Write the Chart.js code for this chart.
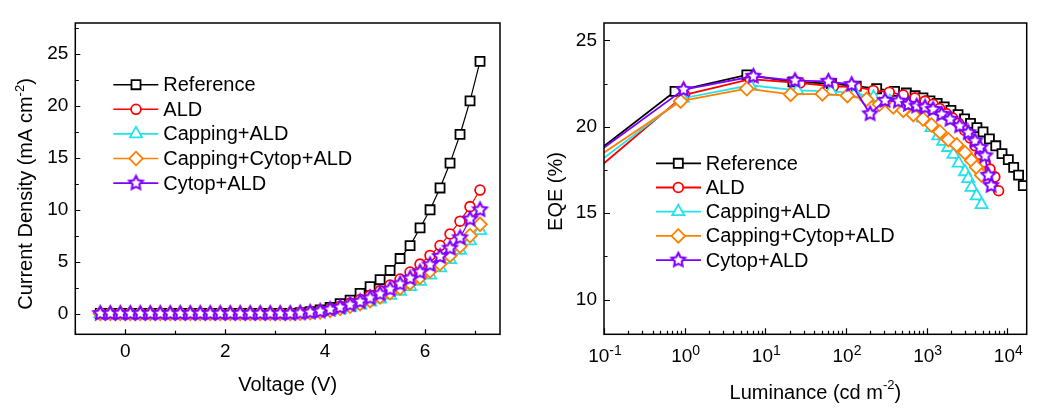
<!DOCTYPE html>
<html>
<head>
<meta charset="utf-8">
<script src="https://cdn.jsdelivr.net/npm/chart.js@4.4.0/dist/chart.umd.min.js"></script>
<style>
html,body{margin:0;padding:0;background:#fff;}
#wrap{position:relative;width:1045px;height:414px;overflow:hidden;}
.pane{position:absolute;top:0;height:414px;}
</style>
</head>
<body>
<div id="wrap">
  <div class="pane" style="left:0;width:520px;"><canvas id="left"></canvas></div>
  <div class="pane" style="left:520px;width:525px;"><canvas id="right"></canvas></div>
</div>
<script>
// ---------------- DATA ----------------
const seriesNames = ['Reference', 'ALD', 'Capping+ALD', 'Capping+Cytop+ALD', 'Cytop+ALD'];

// Left: J-V
const voltage = [-0.5,-0.3,-0.1,0.1,0.3,0.5,0.7,0.9,1.1,1.3,1.5,1.7,1.9,2.1,2.3,2.5,2.7,2.9,3.1,3.3,
                 3.5,3.7,3.9,4.1,4.3,4.5,4.7,4.9,5.1,5.3,5.5,5.7,5.9,6.1,6.3,6.5,6.7,6.9,7.1];
const jReference = [0,0,0,0,0,0,0,0,0,0,0,0,0,0,0,0,0,0,0,0,
                    0.08,0.18,0.35,0.6,0.95,1.3,1.95,2.6,3.26,4.15,5.3,6.55,8.25,10.0,12.1,14.5,17.26,20.5,24.3];
const jALD       = [0,0,0,0,0,0,0,0,0,0,0,0,0,0,0,0,0,0,0,0,
                    0.05,0.14,0.27,0.45,0.7,1.0,1.35,1.75,2.2,2.75,3.33,4.0,4.76,5.6,6.55,7.67,8.9,10.3,11.9];
const jCapping   = [0,0,0,0,0,0,0,0,0,0,0,0,0,0,0,0,0,0,0,0,
                    0.02,0.06,0.12,0.25,0.4,0.6,0.82,1.1,1.4,1.75,2.15,2.6,3.1,3.7,4.4,5.2,6.1,7.0,8.0];
const jCapCytop  = [0,0,0,0,0,0,0,0,0,0,0,0,0,0,0,0,0,0,0,0,
                    0.03,0.08,0.15,0.3,0.5,0.7,0.95,1.25,1.6,2.0,2.45,2.95,3.5,4.1,4.8,5.6,6.5,7.5,8.6];
const jCytop     = [0,0,0,0,0,0,0,0,0,0,0,0,0,0,0,0,0,0,0,0,
                    0.05,0.12,0.22,0.4,0.6,0.85,1.15,1.5,1.9,2.35,2.85,3.4,4.0,4.7,5.5,6.3,7.3,9.1,10.0];

// Right: EQE vs luminance
const lumReference = [0.05,0.76,5.9,22,66,134,240,400,560,720,900,1100,1350,1650,2000,2450,2950,3500,4200,5000,6000,7200,8600,10300,12000,13800,15800];
const eqeReference = [17.8,22.05,23.0,22.6,22.5,22.35,22.2,22.05,21.95,21.8,21.67,21.5,21.35,21.15,20.95,20.7,20.45,20.2,19.95,19.7,19.3,18.9,18.45,18.1,17.65,17.2,16.6];
const lumALD = [0.05,1.0,6.5,27,70,135,218,344,513,716,955,1200,1450,1770,2100,2500,2950,3450,4000,4600,5300,6100,7000,7800];
const eqeALD = [16.7,21.85,22.75,22.53,22.34,22.3,22.1,22.0,21.83,21.67,21.48,21.3,21.05,20.75,20.5,20.2,19.8,19.35,18.9,18.4,17.95,17.55,17.1,16.3];
const lumCapping = [0.05,0.95,6.5,25,65,130,220,350,500,700,900,1150,1390,1600,1850,2150,2500,2990,3280,3610,4170,4810];
const eqeCapping = [17.14,21.65,22.4,22.1,22.05,21.95,21.7,21.45,21.2,20.9,20.5,19.95,19.47,19.15,18.8,18.4,17.9,17.4,17.0,16.5,16.0,15.5];
const lumCapCytop = [0.05,0.89,5.9,20.6,51,104,180,260,386,513,684,900,1150,1460,1860,2360,2990,3610,4170,4800];
const eqeCapCytop = [17.56,21.48,22.2,21.87,21.9,21.8,21.58,21.3,21.15,20.95,20.7,20.45,20.1,19.7,19.25,18.95,18.5,18.05,17.65,17.2];
const lumCytop = [0.05,0.97,7.1,23.3,60.4,117.5,199,305,447,594,754,955,1200,1535,1950,2570,3280,3980,4600,5300,5800,6300];
const eqeCytop = [17.77,22.15,22.92,22.67,22.63,22.44,20.75,21.52,21.48,21.29,21.19,21.13,21.0,20.72,20.43,20.05,19.66,19.18,18.8,18.32,17.2,16.6];

// Tick labels
const leftXTickLabels = [0, 2, 4, 6];
const leftXMinorTicks = [-1, 1, 3, 5, 7];
const leftYTickLabels = [0, 5, 10, 15, 20, 25];
const leftYMinorTicks = [2.5, 7.5, 12.5, 17.5, 22.5, 27.5];
const rightYTickLabels = [10, 15, 20, 25];
const rightYMinorTicks = [12.5, 17.5, 22.5];
const rightXDecadeExps = [-1, 0, 1, 2, 3, 4];
const rightXMinorMults = [2, 3, 4, 5, 6, 7, 8, 9];

// ---------------- STYLE ----------------
const FONT = "'Liberation Sans', Arial, Helvetica, sans-serif";
const colors = ['#000000', '#ff0000', '#22e3ec', '#ff8000', '#8000ff'];

function makeStar(color, R, lw) {
  const s = Math.ceil(2 * R + lw * 2 + 2);
  const c = document.createElement('canvas');
  c.width = s; c.height = s;
  const g = c.getContext('2d');
  const cx = s / 2, cy = s / 2, r = R * 0.5;
  g.beginPath();
  for (let k = 0; k < 10; k++) {
    const ang = -Math.PI / 2 + k * Math.PI / 5;
    const rr = (k % 2) ? r : R;
    g.lineTo(cx + rr * Math.cos(ang), cy + rr * Math.sin(ang));
  }
  g.closePath();
  g.fillStyle = '#fff'; g.fill();
  g.strokeStyle = color; g.lineWidth = lw; g.lineJoin = 'miter'; g.stroke();
  return c;
}
const starImg = makeStar(colors[4], 7.2, 2.1);

const markers = [
  {style: 'rect', r: 6.4},
  {style: 'circle', r: 4.9},
  {style: 'triangle', r: 7},
  {style: 'rectRot', r: 6.8},
  {style: starImg, r: 7}
];

function drawMarker(ctx, i, x, y) {
  const m = markers[i];
  ctx.save();
  ctx.fillStyle = '#fff'; ctx.strokeStyle = colors[i]; ctx.lineWidth = 1.8;
  if (typeof m.style !== 'string') {
    ctx.drawImage(m.style, x - m.style.width / 2, y - m.style.height / 2);
    ctx.restore(); return;
  }
  ctx.beginPath();
  const r = m.r;
  if (m.style === 'rect') {
    const s = Math.SQRT1_2 * r; ctx.rect(x - s, y - s, 2 * s, 2 * s);
  } else if (m.style === 'circle') {
    ctx.arc(x, y, r, 0, Math.PI * 2);
  } else if (m.style === 'triangle') {
    for (let k = 0; k < 3; k++) { const a = k * 2 * Math.PI / 3; ctx.lineTo(x + Math.sin(a) * r, y - Math.cos(a) * r); }
    ctx.closePath();
  } else if (m.style === 'rectRot') {
    ctx.moveTo(x, y - r); ctx.lineTo(x + r, y); ctx.lineTo(x, y + r); ctx.lineTo(x - r, y); ctx.closePath();
  }
  ctx.fill(); ctx.stroke();
  ctx.restore();
}

function richWidth(ctx, parts) {
  let w = 0;
  parts.forEach(p => { ctx.font = p.f + 'px ' + FONT; w += ctx.measureText(p.t).width; });
  return w;
}
function drawRich(ctx, parts, cx, baseY) {
  const w = richWidth(ctx, parts);
  let x = cx - w / 2;
  ctx.textAlign = 'left'; ctx.textBaseline = 'alphabetic'; ctx.fillStyle = '#000';
  parts.forEach(p => {
    ctx.font = p.f + 'px ' + FONT;
    ctx.fillText(p.t, x, baseY - (p.dy || 0));
    x += ctx.measureText(p.t).width;
  });
}

function makeDeco(cfg) {
  return {
    id: 'deco',
    afterDraw(chart) {
      const ctx = chart.ctx, a = chart.chartArea;
      const xs = chart.scales.x, ys = chart.scales.y;
      ctx.save();
      // inward ticks
      ctx.strokeStyle = '#000'; ctx.lineWidth = 1.2;
      ctx.beginPath();
      xs.ticks.forEach(t => {
        const p = Math.round(xs.getPixelForValue(t.value)) + 0.5;
        if (p < a.left - 0.5 || p > a.right + 0.5) return;
        const L = cfg.isMajorX(t.value) ? cfg.majorLen : cfg.minorLen;
        ctx.moveTo(p, a.bottom); ctx.lineTo(p, a.bottom - L);
      });
      ys.ticks.forEach(t => {
        const p = Math.round(ys.getPixelForValue(t.value)) + 0.5;
        const L = cfg.isMajorY(t.value) ? cfg.majorLen : cfg.minorLen;
        ctx.moveTo(a.left, p); ctx.lineTo(a.left + L, p);
      });
      ctx.stroke();
      // frame
      ctx.lineWidth = 1.5;
      ctx.strokeRect(a.left, a.top, a.right - a.left, a.bottom - a.top);
      // custom x tick labels (log)
      if (cfg.logLabels) {
        rightXDecadeExps.forEach(e => {
          const px = xs.getPixelForValue(Math.pow(10, e));
          const sup = (e < 0 ? '-' + (-e) : String(e));
          const parts = [{t: '10', f: 19}, {t: sup, f: 14, dy: 7}];
          drawRich(ctx, parts, px + 1, cfg.logLabelBase);
        });
      }
      // x title
      drawRich(ctx, cfg.xTitle, (a.left + a.right) / 2, cfg.xTitleBase);
      // y title (rotated)
      ctx.save();
      ctx.translate(cfg.yTitleBaseX, cfg.yTitleCenterY);
      ctx.rotate(-Math.PI / 2);
      drawRich(ctx, cfg.yTitle, 0, 0);
      ctx.restore();
      // legend
      for (let i = 0; i < seriesNames.length; i++) {
        const y = cfg.legY0 + i * cfg.legDy;
        ctx.strokeStyle = colors[i]; ctx.lineWidth = cfg.lineW;
        ctx.beginPath(); ctx.moveTo(cfg.legX0, y); ctx.lineTo(cfg.legX1, y); ctx.stroke();
        drawMarker(ctx, i, cfg.legMX, y);
        ctx.fillStyle = '#000'; ctx.font = '20px ' + FONT;
        ctx.textAlign = 'left'; ctx.textBaseline = 'middle';
        ctx.fillText(seriesNames[i], cfg.legTX, y + 1);
      }
      ctx.restore();
    }
  };
}

function dataset(i, xs, ys, lineW) {
  const m = markers[i];
  return {
    label: seriesNames[i],
    data: xs.map((x, k) => ({x: x, y: ys[k]})),
    showLine: true,
    borderColor: colors[i],
    backgroundColor: '#fff',
    borderWidth: lineW,
    pointStyle: m.style,
    pointRadius: m.r,
    pointBackgroundColor: '#fff',
    pointBorderColor: colors[i],
    pointBorderWidth: 1.8,
    tension: 0,
    order: 5 - i
  };
}

Chart.defaults.font.family = FONT;
Chart.defaults.color = '#000';

const tickFont = {size: 19, family: FONT};

// ---------------- LEFT CHART ----------------
new Chart(document.getElementById('left'), {
  type: 'scatter',
  data: {
    datasets: [
      dataset(0, voltage, jReference, 1.2),
      dataset(1, voltage, jALD, 1.2),
      dataset(2, voltage, jCapping, 1.2),
      dataset(3, voltage, jCapCytop, 1.2),
      dataset(4, voltage, jCytop, 1.2)
    ]
  },
  options: {
    responsive: true, maintainAspectRatio: false, animation: false, devicePixelRatio: 1,
    events: [],
    layout: {padding: {top: 23, right: 20, left: 0, bottom: 0}},
    plugins: {legend: {display: false}, tooltip: {enabled: false}},
    scales: {
      x: {
        type: 'linear', min: -1, max: 7.5,
        afterBuildTicks: s => { s.ticks = leftXTickLabels.concat(leftXMinorTicks).sort((a, b) => a - b).map(v => ({value: v})); },
        afterFit: s => { s.height = 79.7; },
        ticks: {font: tickFont, color: '#000', padding: 6, maxRotation: 0, autoSkip: false,
                callback: v => leftXTickLabels.includes(v) ? String(v) : ''},
        grid: {display: false, drawTicks: false},
        border: {display: false}
      },
      y: {
        type: 'linear', min: -2, max: 28,
        afterBuildTicks: s => { s.ticks = leftYTickLabels.concat(leftYMinorTicks).sort((a, b) => a - b).map(v => ({value: v})); },
        afterFit: s => { s.width = 75.3; },
        ticks: {font: tickFont, color: '#000', padding: 7, autoSkip: false,
                callback: v => leftYTickLabels.includes(v) ? String(v) : ''},
        grid: {display: false, drawTicks: false},
        border: {display: false}
      }
    }
  },
  plugins: [makeDeco({
    isMajorX: v => leftXTickLabels.includes(v),
    isMajorY: v => leftYTickLabels.includes(v),
    majorLen: 5, minorLen: 3.5,
    xTitle: [{t: 'Voltage (V)', f: 20}],
    xTitleBase: 390.7,
    yTitle: [{t: 'Current Density (mA cm', f: 20}, {t: '-2', f: 13, dy: 8}, {t: ')', f: 20}],
    yTitleBaseX: 31.5, yTitleCenterY: 194,
    legY0: 84.7, legDy: 24.6, legX0: 113.3, legX1: 158.3, legMX: 136, legTX: 163.3, lineW: 1.6
  })]
});

// ---------------- RIGHT CHART ----------------
const rightXTickValues = [];
rightXDecadeExps.forEach(e => {
  rightXTickValues.push(Math.pow(10, e));
  rightXMinorMults.forEach(m => rightXTickValues.push(m * Math.pow(10, e)));
});

new Chart(document.getElementById('right'), {
  type: 'scatter',
  data: {
    datasets: [
      dataset(0, lumReference, eqeReference, 1.8),
      dataset(1, lumALD, eqeALD, 1.8),
      dataset(2, lumCapping, eqeCapping, 1.8),
      dataset(3, lumCapCytop, eqeCapCytop, 1.8),
      dataset(4, lumCytop, eqeCytop, 1.8)
    ]
  },
  options: {
    responsive: true, maintainAspectRatio: false, animation: false, devicePixelRatio: 1,
    events: [],
    layout: {padding: {top: 23, right: 18.3, left: 0, bottom: 0}},
    plugins: {legend: {display: false}, tooltip: {enabled: false}},
    scales: {
      x: {
        type: 'logarithmic', min: 0.1, max: 17400,
        afterBuildTicks: s => { s.ticks = rightXTickValues.filter(v => v >= 0.1 && v <= 17400).map(v => ({value: v})); },
        afterFit: s => { s.height = 79.7; },
        ticks: {display: false},
        grid: {display: false, drawTicks: false},
        border: {display: false}
      },
      y: {
        type: 'linear', min: 8, max: 26,
        afterBuildTicks: s => { s.ticks = rightYTickLabels.concat(rightYMinorTicks).sort((a, b) => a - b).map(v => ({value: v})); },
        afterFit: s => { s.width = 84; },
        ticks: {font: tickFont, color: '#000', padding: 7, autoSkip: false,
                callback: v => rightYTickLabels.includes(v) ? String(v) : ''},
        grid: {display: false, drawTicks: false},
        border: {display: false}
      }
    }
  },
  plugins: [makeDeco({
    isMajorX: v => Math.abs(Math.log10(v) - Math.round(Math.log10(v))) < 1e-6,
    isMajorY: v => rightYTickLabels.includes(v),
    majorLen: 6, minorLen: 3.5,
    logLabels: true, logLabelBase: 361.7,
    xTitle: [{t: 'Luminance (cd m', f: 20}, {t: '-2', f: 13, dy: 10}, {t: ')', f: 20}],
    xTitleBase: 399,
    yTitle: [{t: 'EQE (%)', f: 20}],
    yTitleBaseX: 41.7, yTitleCenterY: 191.5,
    legY0: 163.3, legDy: 24.2, legX0: 136, legX1: 181, legMX: 158.3, legTX: 185.7, lineW: 1.8
  })]
});
</script>
</body>
</html>
